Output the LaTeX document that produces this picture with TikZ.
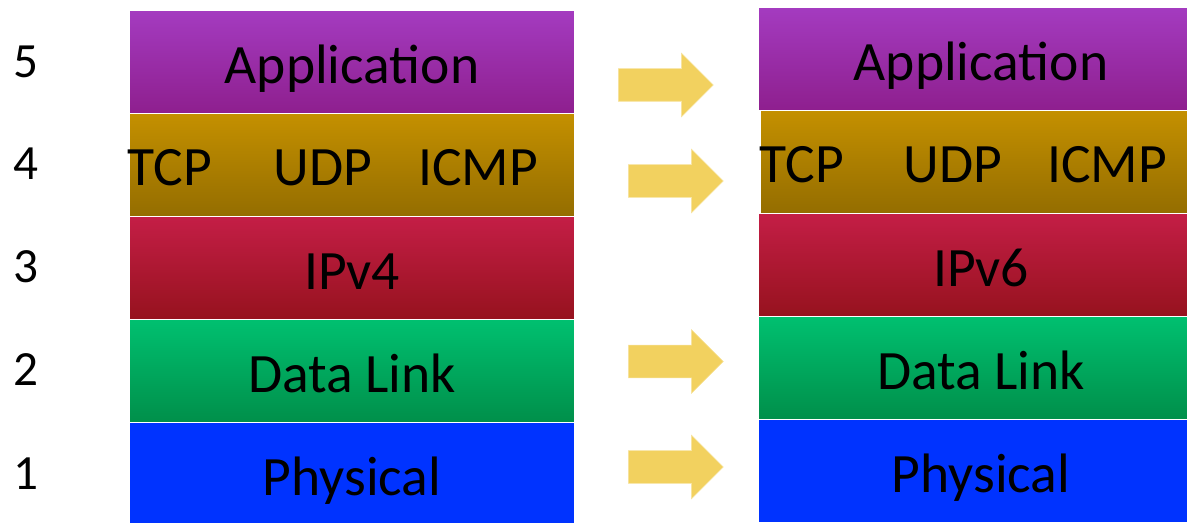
\documentclass[tikz,border=0pt]{standalone}
\usepackage{fontspec}
\setmainfont{Carlito}
\usetikzlibrary{positioning}
\usetikzlibrary{shapes.arrows}
\definecolor{apptop}{HTML}{A43BC0}
\definecolor{appbot}{HTML}{8E1F8E}
\definecolor{transtop}{HTML}{C49000}
\definecolor{transbot}{HTML}{946D00}
\definecolor{nettop}{HTML}{C41E46}
\definecolor{netbot}{HTML}{96121E}
\definecolor{linktop}{HTML}{00C070}
\definecolor{linkbot}{HTML}{008F4A}
\definecolor{phys}{HTML}{0033FF}
\definecolor{arrowgold}{HTML}{F2D15F}

\begin{document}
\begin{tikzpicture}
    [x=0.025cm, y=-0.025cm,
    layer/.style={rectangle, anchor=north west, draw=white, line width=0.6pt, minimum width=11.125cm, minimum height=2.575cm, inner sep=0pt, font=\fontsize{39.5}{40}\selectfont, text height=30.5pt, text depth=0pt},
    proto/.style={inner sep=0pt, font=\fontsize{39.5}{40}\selectfont, text height=30.5pt, text depth=0pt},
    num/.style={inner sep=0pt, font=\fontsize{35}{36}\selectfont, text height=22pt, text depth=0pt},
    move/.style={single arrow, anchor=tail, fill=arrowgold, draw=arrowgold!60!white, line width=0.4pt, minimum height=2.375cm, single arrow head extend=0.3875cm, inner xsep=0pt, inner ysep=0.4cm}]
    \useasboundingbox (0,0) rectangle (1187,523);
    \clip (0,0) rectangle (1187,523);
    % layer numbers
    \node[num] (n5) at (26, 62)  {5};
    \node[num] (n4) at (26, 164) {4};
    \node[num] (n3) at (26, 267) {3};
    \node[num] (n2) at (26, 370) {2};
    \node[num] (n1) at (26, 474) {1};
    % IPv4 stack
    \node[layer, top color=apptop, bottom color=appbot]     (app4)  at (129, 10)  {Application};
    \node[layer, top color=transtop, bottom color=transbot] (tr4)   at (129, 113) {};
    \node[layer, top color=nettop, bottom color=netbot]     (ip4)   at (129, 216) {IPv4};
    \node[layer, top color=linktop, bottom color=linkbot]   (link4) at (129, 319) {Data Link};
    \node[layer, fill=phys]                                 (phy4)  at (129, 422) {Physical};
    \node[proto] (tcp4)  at (170, 164.5) {TCP};
    \node[proto] (udp4)  at (323, 164.5) {UDP};
    \node[proto] (icmp4) at (478, 164.5) {ICMP};
    % IPv6 stack
    \node[layer, top color=apptop, bottom color=appbot]     (app6)  at (758, 7)   {Application};
    \node[layer, top color=transtop, bottom color=transbot] (tr6)   at (760, 110) {};
    \node[layer, top color=nettop, bottom color=netbot]     (ip6)   at (758, 213) {IPv6};
    \node[layer, top color=linktop, bottom color=linkbot]   (link6) at (758, 316) {Data Link};
    \node[layer, fill=phys]                                 (phy6)  at (758, 419) {Physical};
    \node[proto] (tcp6)  at (802, 161.5) {TCP};
    \node[proto] (udp6)  at (953, 161.5) {UDP};
    \node[proto] (icmp6) at (1107, 161.5) {ICMP};
    % arrows
    \node[move] (m5) at (618, 85)    {};
    \node[move] (m4) at (628, 181)   {};
    \node[move] (m2) at (628, 361.5) {};
    \node[move] (m1) at (628, 467)   {};
\end{tikzpicture}
\end{document}
